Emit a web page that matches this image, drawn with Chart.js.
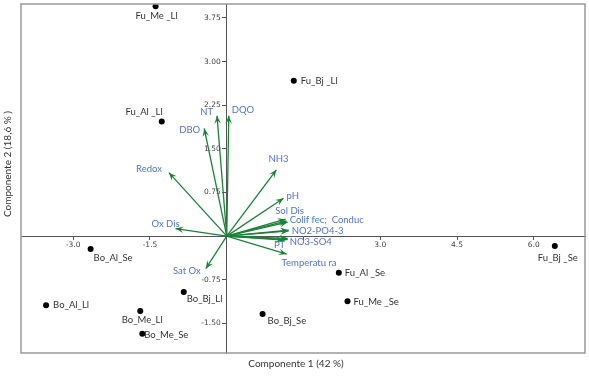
<!DOCTYPE html>
<html><head><meta charset="utf-8">
<script src="https://cdn.jsdelivr.net/npm/chart.js@4.4.1/dist/chart.umd.min.js"></script>
<style>html,body{margin:0;padding:0;background:#fff;}#wrap{width:589px;height:376px;}</style>
</head><body><div id="wrap"><canvas id="c" width="589" height="376"></canvas></div>
<script>
// ---- data ----
const sampleNames = ['Fu_Me _Ll','Fu_Al _Ll','Fu_Bj _Ll','Fu_Al _Se','Fu_Me _Se','Fu_Bj _Se',
                     'Bo_Al_Se','Bo_Al_Ll','Bo_Me_Ll','Bo_Me_Se','Bo_Bj_Ll','Bo_Bj_Se'];
const sampleX = [-1.39, -1.27, 1.31, 2.19, 2.36, 6.41, -2.66, -3.53, -1.69, -1.65, -0.84, 0.70];
const sampleY = [3.95, 1.97, 2.67, -0.63, -1.12, -0.17, -0.22, -1.19, -1.29, -1.68, -0.96, -1.34];

const varNames = ['DQO','NT','DBO','Redox','Ox Dis','Sat Ox','NH3','pH','Sol Dis','Colif fec','Conduc',
                  'NO2','PO4-3','NO3','SO4','PT','Temperatura'];
const varX = [0.04, -0.19, -0.44, -1.13, -1.00, -0.41, 0.97, 1.11, 1.15, 1.17, 1.19, 1.21, 1.21, 1.19, 1.19, 1.11, 1.17];
const varY = [2.07, 2.07, 1.85, 1.09, 0.13, -0.56, 1.14, 0.65, 0.29, 0.26, 0.24, 0.10, 0.09, -0.04, -0.06, -0.07, -0.31];
const varLabels = ['DQO','NT','DBO','Redox','Ox Dis','Sat Ox','NH3','pH','Sol Dis','','Colif fec;  Conduc',
                   '','NO2-PO4-3','','NO3-SO4','PT','Temperatu ra'];

const xTicks = [-3.0, -1.5, 1.5, 3.0, 4.5, 6.0];
const xTickLabels = ['-3.0', '-1.5', '', '3.0', '4.5', '6.0'];
const yTicks = [-1.5, -0.75, 0.75, 1.5, 2.25, 3.0, 3.75];
const yTickLabels = ['-1.50', '-0.75', '0.75', '1.50', '2.25', '3.00', '3.75'];

const xTitle = 'Componente 1 (42 %)';
const yTitle = 'Componente 2 (18,6 % )';

// ---- label placement (pixels offset, alignment) ----
const sampleLabelPos = [
  [1,10,'center'],[1,-10,'right'],[7,0,'left'],[6,0,'left'],[6,1,'left'],[3,12,'center'],
  [3,9,'left'],[7,0,'left'],[2,9,'center'],[2,1,'left'],[3,7,'left'],[5,7,'left']
];
const varLabelPos = [
  [3,-6,'left'],[-4,-4,'right'],[-4,1,'right'],[-7,-4,'right'],[-10,-5,'center'],[-5,2,'right'],
  [2,-11,'center'],[3,-2,'left'],[4,-8,'center'],[0,0,'left'],[2,-2,'left'],
  [0,0,'left'],[3,0,'left'],[0,0,'left'],[2,2,'left'],[-4,5,'center'],[-5,9,'left']
];

const GREEN = '#1a8238';
const BLUE = '#5274c6';
const LABEL_FONT = 'Lato, "Open Sans", sans-serif';
const TICK_FONT = '7.5px "DejaVu Sans", sans-serif';

const arrowSets = varNames.map((n, i) => ({
  label: n,
  data: [{x: 0, y: 0}, {x: varX[i], y: varY[i]}],
  showLine: true,
  borderColor: GREEN,
  borderWidth: 1.3,
  pointRadius: 0,
  fill: false
}));

const pointSet = {
  label: 'samples',
  data: sampleX.map((x, i) => ({x, y: sampleY[i]})),
  pointRadius: 3,
  pointBackgroundColor: '#000',
  pointBorderWidth: 0,
  showLine: false
};

const overlay = {
  id: 'overlay',
  afterDatasetsDraw(chart) {
    const ctx = chart.ctx, xs = chart.scales.x, ys = chart.scales.y;
    const x0 = xs.getPixelForValue(0), y0 = ys.getPixelForValue(0);
    ctx.save();
    // arrow heads
    ctx.fillStyle = GREEN;
    varX.forEach((vx, i) => {
      const x1 = xs.getPixelForValue(vx), y1 = ys.getPixelForValue(varY[i]);
      const a = Math.atan2(y1 - y0, x1 - x0);
      const L = 8, W = 3.3;
      const c = Math.cos(a), s = Math.sin(a);
      ctx.beginPath();
      ctx.moveTo(x1, y1);
      ctx.lineTo(x1 - L * c + W * s, y1 - L * s - W * c);
      ctx.lineTo(x1 - 0.6 * L * c, y1 - 0.6 * L * s);
      ctx.lineTo(x1 - L * c - W * s, y1 - L * s + W * c);
      ctx.closePath();
      ctx.fill();
    });
    // y tick labels (left of the centred vertical axis)
    ctx.font = TICK_FONT;
    ctx.fillStyle = '#444';
    ctx.textAlign = 'right';
    ctx.textBaseline = 'middle';
    yTicks.forEach((v, i) => {
      ctx.fillText(yTickLabels[i], x0 - 6, ys.getPixelForValue(v));
    });
    // variable labels
    ctx.font = '9.5px ' + LABEL_FONT;
    ctx.fillStyle = BLUE;
    varLabels.forEach((t, i) => {
      if (!t) return;
      const p = varLabelPos[i];
      ctx.textAlign = p[2];
      ctx.fillText(t, xs.getPixelForValue(varX[i]) + p[0], ys.getPixelForValue(varY[i]) + p[1]);
    });
    // sample labels
    ctx.fillStyle = '#333';
    sampleNames.forEach((t, i) => {
      const p = sampleLabelPos[i];
      ctx.textAlign = p[2];
      ctx.fillText(t, xs.getPixelForValue(sampleX[i]) + p[0], ys.getPixelForValue(sampleY[i]) + p[1]);
    });
    ctx.restore();
  },
  afterDraw(chart) {
    const ctx = chart.ctx, ca = chart.chartArea;
    ctx.save();
    ctx.strokeStyle = '#999';
    ctx.lineWidth = 1.5;
    ctx.strokeRect(ca.left, ca.top, ca.right - ca.left, ca.bottom - ca.top);
    ctx.fillStyle = '#333';
    ctx.font = '10px ' + LABEL_FONT;
    ctx.textAlign = 'center';
    ctx.textBaseline = 'middle';
    ctx.fillText(xTitle, 296, 364);
    ctx.translate(8, 164);
    ctx.rotate(-Math.PI / 2);
    ctx.fillText(yTitle, 0, 0);
    ctx.restore();
  }
};

const zeroPad = s => { s.paddingTop = 0; s.paddingBottom = 0; s.paddingLeft = 0; s.paddingRight = 0; };

new Chart(document.getElementById('c'), {
  type: 'scatter',
  data: {datasets: [pointSet, ...arrowSets]},
  options: {
    responsive: false,
    animation: false,
    devicePixelRatio: 1,
    layout: {padding: {left: 21, top: 4, right: 3, bottom: 23}},
    plugins: {legend: {display: false}, tooltip: {enabled: false}},
    scales: {
      x: {
        type: 'linear', min: -4.02, max: 7.0, position: {y: 0},
        afterBuildTicks: s => { s.ticks = xTicks.map(v => ({value: v})); },
        afterFit: zeroPad,
        ticks: {callback: (v, i) => xTickLabels[i], autoSkip: false, maxRotation: 0,
                font: {family: 'DejaVu Sans', size: 7.5}, color: '#444', padding: 1},
        grid: {drawOnChartArea: false, drawTicks: true, tickLength: 3, color: '#555'},
        border: {display: true, color: '#555', width: 1}
      },
      y: {
        type: 'linear', min: -2.01, max: 3.99, position: {x: 0},
        afterBuildTicks: s => { s.ticks = yTicks.map(v => ({value: v})); },
        afterFit: zeroPad,
        ticks: {display: false},
        grid: {drawOnChartArea: false, drawTicks: true, tickLength: 4, color: '#555'},
        border: {display: true, color: '#555', width: 1}
      }
    }
  },
  plugins: [overlay]
});
</script>
</body></html>
